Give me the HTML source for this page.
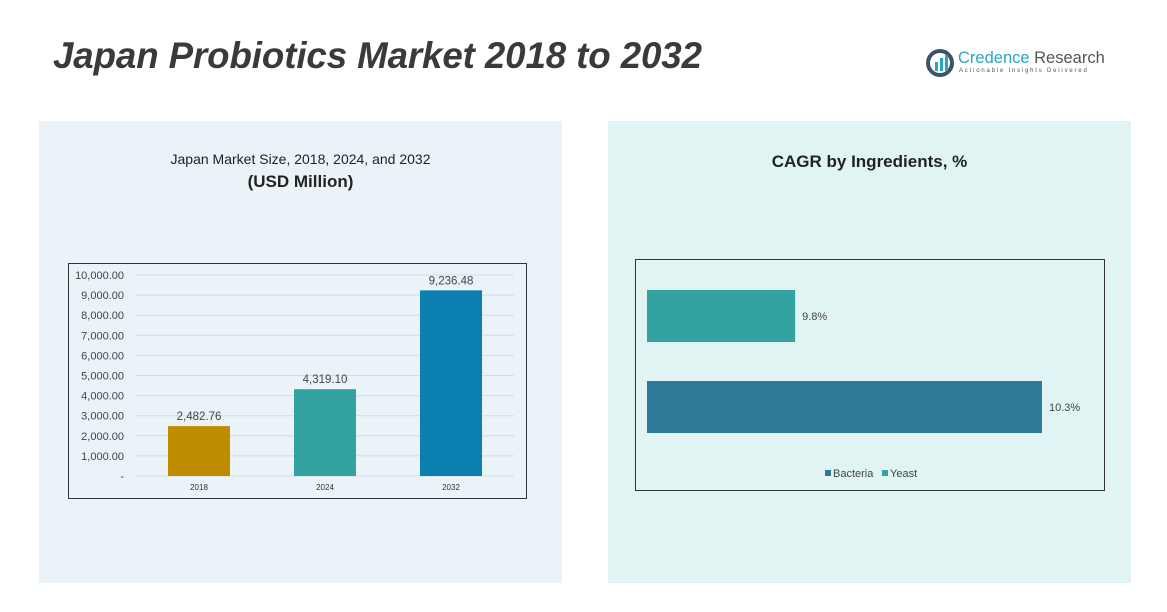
<!DOCTYPE html>
<html><head><meta charset="utf-8"><style>
body{margin:0;width:1167px;height:612px;background:#fff;position:relative;overflow:hidden;font-family:"Liberation Sans",sans-serif}
.abs{position:absolute}
</style></head><body>
<div class="abs" style="left:53px;top:35px;font-size:36.7px;font-weight:bold;font-style:italic;color:#3a3a3a;letter-spacing:-0.1px">Japan Probiotics Market 2018 to 2032</div>
<div class="abs" style="left:926px;top:47px;width:180px;height:32px">
 <svg width="30" height="30" style="position:absolute;left:0;top:2px"><circle cx="14" cy="14" r="12" fill="none" stroke="#3b5566" stroke-width="4"/><rect x="9" y="13" width="3" height="9" fill="#2aa6c2"/><rect x="14" y="9" width="3" height="13" fill="#2aa6c2"/><rect x="19" y="6" width="3" height="16" fill="#2aa6c2"/></svg>
 <div class="abs" style="left:32px;top:2px;font-size:16.5px;color:#555;white-space:nowrap"><span style="color:#2aa6c2">Credence</span> Research</div>
 <div class="abs" style="left:33px;top:21px;font-size:6px;letter-spacing:1.8px;color:#555;white-space:nowrap">Actionable Insights Delivered</div>
</div>
<div class="abs" style="left:39px;top:121px;width:523px;height:462px;background:#e9f3f8"></div>
<div class="abs" style="left:608px;top:121px;width:523px;height:462px;background:#e0f4f4"></div>
<div class="abs" style="left:39px;top:151px;width:523px;text-align:center;font-size:14px;color:#222">Japan Market Size, 2018, 2024, and 2032</div>
<div class="abs" style="left:39px;top:172px;width:523px;text-align:center;font-size:17px;font-weight:bold;color:#222">(USD Million)</div>
<div class="abs" style="left:608px;top:152px;width:523px;text-align:center;font-size:17px;font-weight:bold;color:#222">CAGR by Ingredients, %</div>
<svg class="abs" style="left:0;top:0" width="1167" height="612" id="svg"></svg>
<script>
const years=["2018","2024","2032"];
const sizes=[2482.76,4319.10,9236.48];
const sizeLabels=["2,482.76","4,319.10","9,236.48"];
const yTicks=[0,1000,2000,3000,4000,5000,6000,7000,8000,9000,10000];
const yTickLabels=["-","1,000.00","2,000.00","3,000.00","4,000.00","5,000.00","6,000.00","7,000.00","8,000.00","9,000.00","10,000.00"];
const ingredients=["Yeast","Bacteria"];
const cagr=[9.8,10.3];
const cagrLabels=["9.8%","10.3%"];
const NS="http://www.w3.org/2000/svg",svg=document.getElementById('svg');
function mk(t,a,txt){const e=document.createElementNS(NS,t);for(const k in a)e.setAttribute(k,a[k]);if(txt!=null)e.textContent=txt;svg.appendChild(e);return e;}
let e=mk('rect',{x:68.5,y:263.5,width:458,height:235,fill:'none',stroke:'#333','stroke-width':1});

const y=v=>476-v*(201/10000);
yTicks.forEach((t,i)=>{
 e=mk('line',{x1:135,x2:514,y1:y(t),y2:y(t),stroke:'#d4dde2','stroke-width':1});
 
 e=mk('text',{x:124,y:y(t)+4,'text-anchor':'end','font-size':11,fill:'#444'},yTickLabels[i]);
 
});
const bcol=["#bf8c00","#32a3a1","#0a7fb0"];
const x=i=>199+i*126;
years.forEach((yr,i)=>{
 e=mk('rect',{x:x(i)-31,y:y(sizes[i]),width:62,height:476-y(sizes[i]),fill:bcol[i]});
 
 e=mk('text',{x:x(i),y:y(sizes[i])-6,'text-anchor':'middle','font-size':11.5,fill:'#444'},sizeLabels[i]);
 
 e=mk('text',{x:x(i),y:490,'text-anchor':'middle','font-size':8,fill:'#333'},yr);
 
});
e=mk('rect',{x:635.5,y:259.5,width:469,height:231,fill:'none',stroke:'#333','stroke-width':1});

const xs=v=>647+(v-9.5)*493.75;
const hcol=["#32a3a1","#2e7a99"];
const yc=i=>316+i*91;
ingredients.forEach((n,i)=>{
 e=mk('rect',{x:647,y:yc(i)-26,width:xs(cagr[i])-647,height:52,fill:hcol[i]});
 
 e=mk('text',{x:xs(cagr[i])+7,y:yc(i)+4,'font-size':11,fill:'#444'},cagrLabels[i]);
 
});
[["Bacteria","#2e7a99",825],["Yeast","#32a3a1",882]].forEach(l=>{
 e=mk('rect',{x:l[2],y:470,width:6,height:6,fill:l[1]});
 
 e=mk('text',{x:l[2]+8,y:477,'font-size':11,fill:'#444'},l[0]);
 
});
</script>
</body></html>
